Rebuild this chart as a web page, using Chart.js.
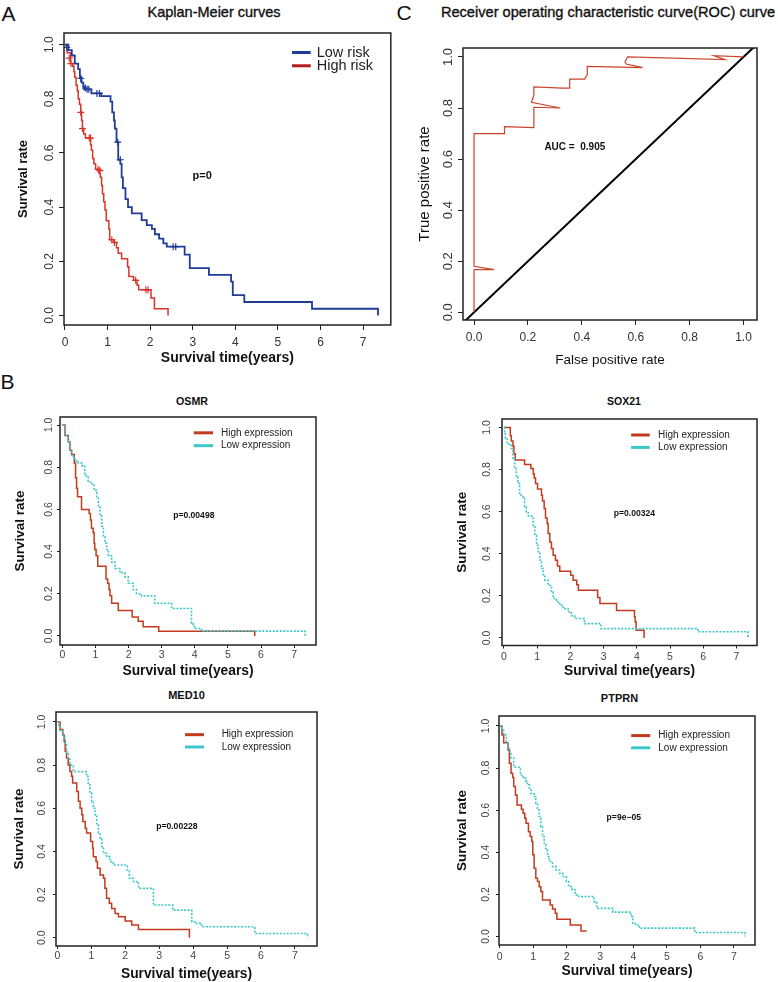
<!DOCTYPE html>
<html>
<head>
<meta charset="utf-8">
<script src="https://cdn.jsdelivr.net/npm/chart.js@4.4.1/dist/chart.umd.min.js"></script>
<style>
  body { margin: 0; background: #fff; width: 778px; height: 982px; position: relative; overflow: hidden;
         font-family: "Liberation Sans", Arial, sans-serif; color: #111; }
  canvas { position: absolute; }
  .t { position: absolute; white-space: nowrap; line-height: 1; transform: translate(-50%, -50%); }
  .main { -webkit-text-stroke: 0.35px #111; }
</style>
</head>
<body>
<div class="t" style="left:8.5px;top:12.5px;font-size:21px">A</div>
<div class="t main" style="left:214px;top:12px;font-size:14.5px">Kaplan-Meier curves</div>
<div class="t" style="left:404px;top:12px;font-size:21px">C</div>
<div class="t main" style="left:608px;top:12px;font-size:14.6px">Receiver operating characteristic curve(ROC) curve</div>
<div class="t" style="left:7.5px;top:380.5px;font-size:21px">B</div>
<div class="t" style="left:192px;top:401px;font-size:10.7px;font-weight:bold">OSMR</div>
<div class="t" style="left:624px;top:401px;font-size:10.5px;font-weight:bold">SOX21</div>
<div class="t" style="left:186.5px;top:695px;font-size:11px;font-weight:bold">MED10</div>
<div class="t" style="left:619.5px;top:698px;font-size:11px;font-weight:bold">PTPRN</div>
<script>
const FONT = '"Liberation Sans", Arial, sans-serif';

// ---- A: Kaplan-Meier by risk group ----
const lowRiskTime = [0, 0.08, 0.16, 0.23, 0.31, 0.35, 0.39, 0.43, 0.45, 0.62, 0.85, 1.07, 1.11, 1.15, 1.17, 1.21, 1.25, 1.30, 1.33, 1.36, 1.42, 1.48, 1.57, 1.80, 1.92, 2.04, 2.11, 2.21, 2.31, 2.39, 2.81, 2.93, 3.38, 3.90, 3.94, 4.21, 5.80, 7.35];
const lowRiskSurv = [1.0, 0.98, 0.96, 0.93, 0.91, 0.88, 0.86, 0.845, 0.835, 0.82, 0.81, 0.79, 0.75, 0.72, 0.69, 0.64, 0.575, 0.56, 0.51, 0.47, 0.43, 0.40, 0.377, 0.352, 0.334, 0.32, 0.30, 0.284, 0.266, 0.254, 0.225, 0.175, 0.15, 0.125, 0.075, 0.05, 0.025, 0.0];
const lowRiskCensorTime = [0.04, 0.37, 0.48, 0.52, 0.56, 0.75, 0.81, 1.24, 1.30, 2.54, 2.60];
const lowRiskCensorSurv = [0.99, 0.875, 0.84, 0.835, 0.835, 0.82, 0.82, 0.64, 0.575, 0.254, 0.254];
const highRiskTime = [0, 0.05, 0.13, 0.18, 0.21, 0.23, 0.26, 0.29, 0.31, 0.34, 0.37, 0.39, 0.41, 0.44, 0.48, 0.60, 0.62, 0.65, 0.68, 0.72, 0.80, 0.83, 0.86, 0.88, 0.91, 0.94, 0.97, 1.03, 1.05, 1.15, 1.21, 1.25, 1.33, 1.47, 1.50, 1.61, 1.69, 1.73, 2.02, 2.10, 2.42];
const highRiskSurv = [1.0, 0.97, 0.93, 0.92, 0.90, 0.88, 0.85, 0.83, 0.80, 0.78, 0.75, 0.72, 0.69, 0.67, 0.655, 0.63, 0.61, 0.58, 0.56, 0.54, 0.525, 0.51, 0.48, 0.45, 0.42, 0.39, 0.35, 0.32, 0.28, 0.27, 0.25, 0.23, 0.21, 0.18, 0.144, 0.13, 0.113, 0.095, 0.065, 0.025, 0.0];
const highRiskCensorTime = [0.10, 0.14, 0.37, 0.41, 0.57, 0.60, 0.78, 0.82, 1.10, 1.16, 1.66, 1.90, 1.95];
const highRiskCensorSurv = [0.95, 0.93, 0.75, 0.69, 0.655, 0.655, 0.54, 0.535, 0.28, 0.27, 0.13, 0.095, 0.095];

// ---- C: ROC ----
const rocFpr = [0, 0, 0.074, 0, 0, 0.113, 0.113, 0.222, 0.222, 0.32, 0.213, 0.222, 0.222, 0.33, 0.355, 0.355, 0.41, 0.42, 0.42, 0.625, 0.565, 0.56, 0.57, 0.93, 0.89, 1.0];
const rocTpr = [0, 0.167, 0.167, 0.18, 0.70, 0.70, 0.727, 0.723, 0.803, 0.80, 0.822, 0.85, 0.883, 0.878, 0.878, 0.913, 0.913, 0.93, 0.963, 0.958, 0.972, 0.98, 1.0, 0.99, 1.005, 1.0];
const diagonal = [-0.1, 1.1];

// ---- B: single genes ----
const osmrHighTime = [0, 0.08, 0.18, 0.23, 0.28, 0.36, 0.40, 0.43, 0.46, 0.58, 0.81, 0.85, 0.88, 0.93, 0.96, 0.98, 1.02, 1.07, 1.32, 1.37, 1.41, 1.44, 1.49, 1.69, 2.11, 2.29, 2.44, 2.91, 5.81];
const osmrHighSurv = [1.0, 0.95, 0.92, 0.88, 0.86, 0.82, 0.75, 0.70, 0.66, 0.60, 0.58, 0.55, 0.51, 0.49, 0.44, 0.41, 0.38, 0.33, 0.27, 0.25, 0.22, 0.19, 0.155, 0.12, 0.09, 0.07, 0.044, 0.022, 0.0];
const osmrLowTime = [0, 0.08, 0.18, 0.23, 0.28, 0.38, 0.48, 0.60, 0.68, 0.78, 0.90, 0.96, 1.04, 1.09, 1.14, 1.19, 1.24, 1.29, 1.34, 1.39, 1.49, 1.59, 1.74, 1.89, 1.99, 2.14, 2.24, 2.39, 2.79, 3.30, 3.90, 3.95, 4.00, 4.20, 7.33];
const osmrLowSurv = [1.0, 0.95, 0.92, 0.88, 0.85, 0.83, 0.82, 0.805, 0.76, 0.73, 0.72, 0.69, 0.66, 0.61, 0.57, 0.52, 0.47, 0.44, 0.41, 0.38, 0.35, 0.32, 0.30, 0.28, 0.25, 0.22, 0.20, 0.19, 0.155, 0.13, 0.06, 0.045, 0.035, 0.023, 0.0];

const sox21HighTime = [0, 0.19, 0.22, 0.27, 0.30, 0.34, 0.62, 0.81, 0.88, 0.91, 0.95, 1.01, 1.13, 1.16, 1.21, 1.25, 1.30, 1.33, 1.38, 1.43, 1.48, 1.55, 1.61, 1.68, 2.01, 2.08, 2.19, 2.24, 2.82, 2.89, 3.39, 3.93, 3.95, 3.98, 4.22];
const sox21HighSurv = [1.0, 0.96, 0.935, 0.91, 0.875, 0.845, 0.824, 0.805, 0.78, 0.76, 0.734, 0.707, 0.678, 0.65, 0.615, 0.57, 0.544, 0.496, 0.456, 0.425, 0.393, 0.369, 0.342, 0.317, 0.298, 0.274, 0.253, 0.227, 0.192, 0.163, 0.13, 0.10, 0.076, 0.036, 0.0];
const sox21LowTime = [0, 0.02, 0.04, 0.10, 0.22, 0.27, 0.32, 0.37, 0.42, 0.47, 0.57, 0.62, 0.67, 0.73, 0.83, 0.88, 0.93, 0.98, 1.03, 1.08, 1.13, 1.18, 1.23, 1.33, 1.43, 1.48, 1.58, 1.68, 1.78, 1.93, 2.03, 2.13, 2.42, 2.92, 5.84, 7.35];
const sox21LowSurv = [1.0, 0.98, 0.95, 0.92, 0.90, 0.85, 0.805, 0.765, 0.734, 0.678, 0.662, 0.623, 0.60, 0.58, 0.57, 0.528, 0.488, 0.44, 0.41, 0.37, 0.33, 0.30, 0.274, 0.25, 0.219, 0.187, 0.171, 0.155, 0.139, 0.124, 0.105, 0.092, 0.068, 0.044, 0.029, 0.0];

const med10HighTime = [0, 0.08, 0.16, 0.20, 0.23, 0.27, 0.32, 0.37, 0.42, 0.45, 0.57, 0.62, 0.67, 0.72, 0.75, 0.82, 0.86, 0.98, 1.04, 1.06, 1.14, 1.18, 1.26, 1.36, 1.40, 1.45, 1.53, 1.60, 1.70, 1.80, 2.00, 2.19, 2.39, 3.89];
const med10HighSurv = [1.0, 0.965, 0.94, 0.91, 0.864, 0.833, 0.80, 0.77, 0.748, 0.717, 0.678, 0.632, 0.60, 0.57, 0.539, 0.508, 0.485, 0.446, 0.415, 0.376, 0.353, 0.322, 0.291, 0.276, 0.229, 0.183, 0.16, 0.136, 0.113, 0.098, 0.078, 0.059, 0.039, 0.0];
const med10LowTime = [0, 0.04, 0.08, 0.16, 0.23, 0.27, 0.32, 0.37, 0.47, 0.86, 0.91, 0.96, 1.01, 1.06, 1.11, 1.16, 1.21, 1.26, 1.31, 1.36, 1.45, 1.55, 1.65, 2.06, 2.12, 2.24, 2.39, 2.83, 3.40, 3.96, 4.05, 4.25, 5.82, 7.37];
const med10LowSurv = [1.0, 0.98, 0.96, 0.93, 0.895, 0.856, 0.833, 0.80, 0.77, 0.748, 0.709, 0.67, 0.632, 0.60, 0.57, 0.523, 0.485, 0.46, 0.415, 0.392, 0.376, 0.353, 0.337, 0.314, 0.276, 0.26, 0.229, 0.152, 0.128, 0.074, 0.067, 0.051, 0.02, 0.0];

const ptprnHighTime = [0, 0.07, 0.12, 0.25, 0.29, 0.34, 0.39, 0.42, 0.47, 0.52, 0.65, 0.70, 0.75, 0.79, 0.86, 0.91, 0.96, 0.99, 1.03, 1.08, 1.13, 1.18, 1.23, 1.28, 1.51, 1.58, 1.66, 1.71, 2.11, 2.43, 2.60];
const ptprnHighSurv = [1.0, 0.957, 0.92, 0.886, 0.823, 0.775, 0.755, 0.712, 0.672, 0.625, 0.604, 0.585, 0.562, 0.538, 0.498, 0.475, 0.451, 0.388, 0.324, 0.277, 0.261, 0.237, 0.214, 0.174, 0.15, 0.131, 0.111, 0.082, 0.055, 0.027, 0.027];
const ptprnLowTime = [0, 0.07, 0.12, 0.20, 0.24, 0.29, 0.34, 0.42, 0.62, 0.70, 0.77, 0.83, 0.89, 0.94, 1.03, 1.08, 1.13, 1.18, 1.23, 1.28, 1.33, 1.38, 1.43, 1.48, 1.58, 1.68, 1.79, 1.89, 1.99, 2.06, 2.16, 2.26, 2.36, 2.82, 2.90, 3.38, 3.92, 3.98, 4.05, 4.17, 5.83, 7.33];
const ptprnLowSurv = [1.0, 0.98, 0.957, 0.926, 0.90, 0.878, 0.847, 0.804, 0.767, 0.752, 0.739, 0.72, 0.696, 0.677, 0.665, 0.633, 0.601, 0.57, 0.522, 0.475, 0.443, 0.411, 0.38, 0.356, 0.332, 0.316, 0.30, 0.285, 0.261, 0.237, 0.222, 0.198, 0.19, 0.166, 0.134, 0.116, 0.095, 0.063, 0.055, 0.04, 0.019, 0.0];

const yearTicks = [0, 1, 2, 3, 4, 5, 6, 7];
const rateTicks = [0, 0.2, 0.4, 0.6, 0.8, 1.0];

const BLUE = '#1f3d96', RED_A = '#d8342b', RED = '#c23b1e', CYAN = '#3cc8c8';

function pts(xs, ys) { return xs.map((x, i) => ({x: x, y: ys[i]})); }

function measure(font, texts) {
    const c = document.createElement('canvas').getContext('2d');
    c.font = font;
    return Math.max(...texts.map(t => c.measureText(t).width));
}

// frame around the plot region, like R's box()
const boxPlugin = {
    id: 'frame',
    afterDatasetsDraw(chart) {
        const a = chart.chartArea, ctx = chart.ctx;
        ctx.save();
        ctx.strokeStyle = '#222';
        ctx.lineWidth = 1.5;
        ctx.strokeRect(a.left, a.top, a.right - a.left, a.bottom - a.top);
        ctx.restore();
    }
};

// free text placed in data coordinates
const notesPlugin = {
    id: 'notes',
    afterDraw(chart, args, opts) {
        const ctx = chart.ctx, sx = chart.scales.x, sy = chart.scales.y;
        (opts.items || []).forEach(n => {
            ctx.save();
            ctx.font = n.font;
            ctx.fillStyle = '#111';
            ctx.textAlign = 'center';
            ctx.textBaseline = 'middle';
            ctx.fillText(n.text, sx.getPixelForValue(n.x), sy.getPixelForValue(n.y));
            ctx.restore();
        });
    }
};

// legend drawn inside the plot
const keysPlugin = {
    id: 'keys',
    afterDraw(chart, args, opts) {
        const ctx = chart.ctx, sx = chart.scales.x, sy = chart.scales.y;
        (opts.items || []).forEach(k => {
            const y = sy.getPixelForValue(k.y);
            ctx.save();
            ctx.strokeStyle = k.color;
            ctx.lineWidth = k.width;
            ctx.beginPath();
            ctx.moveTo(sx.getPixelForValue(k.x0), y);
            ctx.lineTo(sx.getPixelForValue(k.x1), y);
            ctx.stroke();
            ctx.font = opts.font;
            ctx.fillStyle = '#222';
            ctx.textBaseline = 'middle';
            ctx.fillText(k.text, sx.getPixelForValue(k.xt), y);
            ctx.restore();
        });
    }
};

function makePanel(p) {
    const c = p.canvas, b = p.box;
    const cv = document.createElement('canvas');
    cv.width = c.w; cv.height = c.h;
    cv.style.left = c.l + 'px'; cv.style.top = c.t + 'px';
    document.body.appendChild(cv);

    const yW = b.l - c.l, xH = c.t + c.h - b.b;
    const yLabels = p.yTicks.map(v => v.toFixed(1));
    const widest = measure(p.yTickSize + 'px ' + FONT, yLabels);
    const yTickPad = Math.max(0, b.l - p.yTickX - p.tl - widest / 2);
    const xTickPad = Math.max(0, p.xTickY - b.b - p.tl - p.xTickSize * 0.6);
    const yTitlePad = Math.max(0, p.yTitleX - c.l - p.yTitle.size * 0.6);
    const xTitlePad = Math.max(0, c.t + c.h - p.xTitleY - p.xTitle.size * 0.6);

    return new Chart(cv, {
        type: 'line',
        data: { datasets: p.datasets },
        options: {
            responsive: false,
            animation: false,
            events: [],
            layout: { padding: { left: 0, top: b.t - c.t, right: c.l + c.w - b.r, bottom: 0 } },
            plugins: {
                legend: { display: false },
                tooltip: { enabled: false },
                notes: { items: p.notes },
                keys: { items: p.keys, font: p.keyFont }
            },
            scales: {
                x: {
                    type: 'linear', min: p.x[0], max: p.x[1],
                    afterBuildTicks: s => { s.ticks = p.xTicks.map(v => ({ value: v })); },
                    afterFit: s => { s.height = xH; s.paddingLeft = 0; s.paddingRight = 0; },
                    grid: { drawOnChartArea: false, tickLength: p.tl, color: '#222', lineWidth: 1 },
                    border: { display: false },
                    ticks: { autoSkip: false, maxRotation: 0, padding: xTickPad, color: p.tickColor,
                             font: { family: FONT, size: p.xTickSize }, callback: p.xFmt },
                    title: { display: true, text: p.xTitle.text, color: '#111',
                             font: { family: FONT, size: p.xTitle.size, weight: p.xTitle.weight },
                             padding: { top: 0, bottom: xTitlePad } }
                },
                y: {
                    type: 'linear', min: p.y[0], max: p.y[1],
                    afterBuildTicks: s => { s.ticks = p.yTicks.map(v => ({ value: v })); },
                    afterFit: s => { s.width = yW; s.paddingTop = 0; s.paddingBottom = 0; },
                    grid: { drawOnChartArea: false, tickLength: p.tl, color: '#222', lineWidth: 1 },
                    border: { display: false },
                    ticks: { autoSkip: false, minRotation: 90, maxRotation: 90, crossAlign: 'center',
                             padding: yTickPad, color: p.tickColor,
                             font: { family: FONT, size: p.yTickSize }, callback: v => v.toFixed(1) },
                    title: { display: true, text: p.yTitle.text, color: '#111',
                             font: { family: FONT, size: p.yTitle.size, weight: p.yTitle.weight },
                             padding: { top: yTitlePad, bottom: 0 } }
                }
            }
        },
        plugins: [boxPlugin, notesPlugin, keysPlugin]
    });
}

function kmLine(xs, ys, color, width, dash) {
    return { data: pts(xs, ys), stepped: true, borderColor: color, borderWidth: width,
             borderDash: dash || [], pointRadius: 0, fill: false };
}
function censor(xs, ys, color) {
    return { data: pts(xs, ys), showLine: false, pointStyle: 'cross', pointRadius: 3.5,
             pointBorderWidth: 1.2, pointBorderColor: color, borderColor: color };
}

const yearFmt = v => String(v);
const kmTitleY = { text: 'Survival rate', size: 13.5, weight: 'bold' };
const kmTitleX = { text: 'Survival time(years)', size: 13.8, weight: 'bold' };

// Panel A
makePanel({
    canvas: { l: 0, t: 25, w: 396, h: 345 }, box: { l: 64, t: 33, r: 392, b: 325 },
    x: [-0.023, 7.65], y: [-0.035, 1.043], xTicks: yearTicks, yTicks: rateTicks, xFmt: yearFmt,
    tl: 5, yTickSize: 12, yTickX: 50, xTickSize: 12, xTickY: 342.5, tickColor: '#333',
    yTitle: { text: 'Survival rate', size: 13, weight: 'bold' }, yTitleX: 23.5,
    xTitle: { text: 'Survival time(years)', size: 14, weight: 'bold' }, xTitleY: 358,
    datasets: [
        censor(lowRiskCensorTime, lowRiskCensorSurv, BLUE),
        kmLine(lowRiskTime, lowRiskSurv, BLUE, 1.8),
        censor(highRiskCensorTime, highRiskCensorSurv, RED_A),
        kmLine(highRiskTime, highRiskSurv, RED_A, 1.5)
    ],
    notes: [{ x: 3.22, y: 0.516, text: 'p=0', font: 'bold 11px ' + FONT }],
    keyFont: '14.5px ' + FONT,
    keys: [
        { x0: 5.33, x1: 5.77, xt: 5.91, y: 0.971, color: BLUE, width: 3, text: 'Low risk' },
        { x0: 5.33, x1: 5.77, xt: 5.91, y: 0.922, color: '#b01e1e', width: 3, text: 'High risk' }
    ]
});

// Panel C
makePanel({
    canvas: { l: 396, t: 25, w: 382, h: 345 }, box: { l: 463, t: 48, r: 757, b: 320 },
    x: [-0.041, 1.05], y: [-0.03, 1.035], xTicks: rateTicks, yTicks: rateTicks, xFmt: v => v.toFixed(1),
    tl: 5, yTickSize: 13, yTickX: 448, xTickSize: 12, xTickY: 338, tickColor: '#333',
    yTitle: { text: 'True positive rate', size: 15, weight: 'normal' }, yTitleX: 425,
    xTitle: { text: 'False positive rate', size: 13.5, weight: 'normal' }, xTitleY: 360.5,
    datasets: [
        { data: pts(rocFpr, rocTpr), borderColor: '#c8452a', borderWidth: 1.2, pointRadius: 0, tension: 0 },
        { data: pts(diagonal, diagonal), borderColor: '#000', borderWidth: 2, pointRadius: 0 }
    ],
    notes: [{ x: 0.374, y: 0.647, text: 'AUC =  0.905', font: 'bold 10px ' + FONT }],
    keys: []
});

const bCommon = {
    xTicks: yearTicks, yTicks: rateTicks, xFmt: yearFmt, tl: 3,
    yTickSize: 10.5, xTickSize: 10.5, tickColor: '#444',
    yTitle: kmTitleY, xTitle: kmTitleX, keyFont: '10px ' + FONT
};
function geneKeys(x0, x1, xt, y1, y2) {
    return [
        { x0: x0, x1: x1, xt: xt, y: y1, color: RED, width: 3, text: 'High expression' },
        { x0: x0, x1: x1, xt: xt, y: y2, color: CYAN, width: 3, text: 'Low expression' }
    ];
}

makePanel(Object.assign({}, bCommon, {
    canvas: { l: 0, t: 408, w: 390, h: 272 }, box: { l: 60, t: 417, r: 316, b: 645 },
    x: [-0.07, 7.66], y: [-0.043, 1.038], yTickX: 49, xTickY: 655, yTitleX: 20, xTitleY: 671,
    datasets: [kmLine(osmrLowTime, osmrLowSurv, CYAN, 1.6, [2, 1.5]), kmLine(osmrHighTime, osmrHighSurv, RED, 1.5)],
    notes: [{ x: 3.97, y: 0.57, text: 'p=0.00498', font: 'bold 8.6px ' + FONT }],
    keys: geneKeys(3.97, 4.55, 4.79, 0.963, 0.902)
}));

makePanel(Object.assign({}, bCommon, {
    canvas: { l: 396, t: 408, w: 382, h: 272 }, box: { l: 502, t: 419, r: 757, b: 645.5 },
    x: [-0.06, 7.62], y: [-0.036, 1.04], yTickX: 486.7, xTickY: 657, yTitleX: 462.5, xTitleY: 671.5,
    datasets: [kmLine(sox21LowTime, sox21LowSurv, CYAN, 1.6, [2, 1.5]), kmLine(sox21HighTime, sox21HighSurv, RED, 1.5)],
    notes: [{ x: 3.93, y: 0.59, text: 'p=0.00324', font: 'bold 8.6px ' + FONT }],
    keys: geneKeys(3.83, 4.39, 4.64, 0.964, 0.905)
}));

makePanel(Object.assign({}, bCommon, {
    canvas: { l: 0, t: 700, w: 390, h: 282 }, box: { l: 56, t: 712, r: 317, b: 946 },
    x: [-0.04, 7.65], y: [-0.038, 1.046], yTickX: 42.5, xTickY: 956, yTitleX: 19, xTitleY: 974,
    datasets: [kmLine(med10LowTime, med10LowSurv, CYAN, 1.6, [2, 1.5]), kmLine(med10HighTime, med10HighSurv, RED, 1.5)],
    notes: [{ x: 3.52, y: 0.516, text: 'p=0.00228', font: 'bold 8.6px ' + FONT }],
    keys: geneKeys(3.76, 4.32, 4.84, 0.941, 0.884)
}));

makePanel(Object.assign({}, bCommon, {
    canvas: { l: 396, t: 700, w: 382, h: 282 }, box: { l: 499, t: 716, r: 755, b: 945 },
    x: [-0.02, 7.63], y: [-0.04, 1.047], yTickX: 486, xTickY: 957.5, yTitleX: 462, xTitleY: 971.5,
    datasets: [kmLine(ptprnLowTime, ptprnLowSurv, CYAN, 1.6, [2, 1.5]), kmLine(ptprnHighTime, ptprnHighSurv, RED, 1.5)],
    notes: [{ x: 3.71, y: 0.565, text: 'p=9e\u221205', font: 'bold 8.6px ' + FONT }],
    keys: geneKeys(3.93, 4.50, 4.74, 0.954, 0.896)
}));
</script>
</body>
</html>
